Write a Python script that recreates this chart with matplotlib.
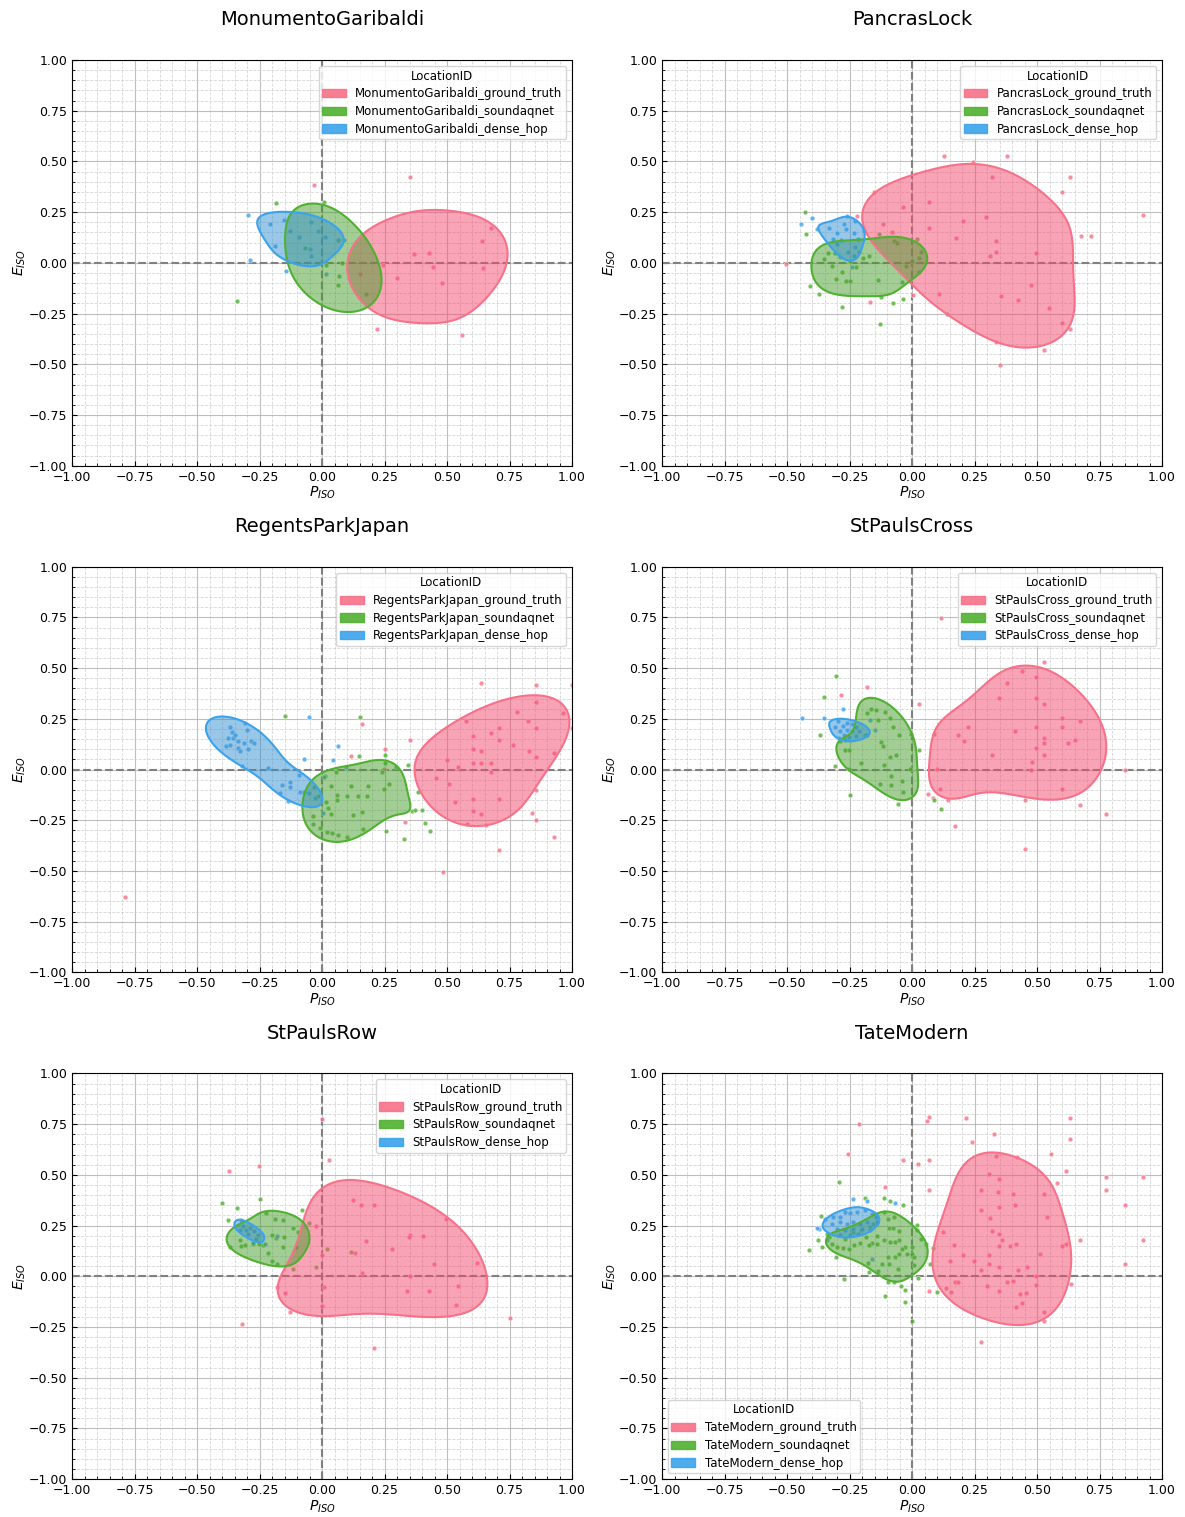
import numpy as np
import matplotlib
matplotlib.use("Agg")
import matplotlib.pyplot as plt
from matplotlib.patches import Patch
import seaborn as sns

# punkty (P_ISO, E_ISO)
locations = ["MonumentoGaribaldi", "PancrasLock", "RegentsParkJapan",
             "StPaulsCross", "StPaulsRow", "TateModern"]
models = ["ground_truth", "soundaqnet", "dense_hop"]

mg_gt = [(0.353, 0.425), (-0.032, 0.383), (0.676, 0.174), (0.64, 0.108), (0.368, 0.043),
         (0.427, 0.049), (0.443, -0.018), (0.644, -0.026), (0.301, -0.076), (0.479, -0.097),
         (0.22, -0.327), (0.56, -0.356), (0.243, -0.01), (0.152, -0.056)]
mg_sq = [(-0.183, 0.294), (0.007, 0.299), (-0.068, 0.072), (0.081, -0.002), (0.017, -0.011),
         (0.068, -0.064), (0.063, -0.11), (0.175, -0.154), (-0.339, -0.19),
         (0.064, 0.113)]
mg_dh = [(-0.297, 0.238), (-0.288, 0.015), (-0.145, -0.039), (-0.209, 0.19), (-0.152, 0.212),
         (-0.129, 0.159), (-0.091, 0.128), (-0.044, 0.204), (-0.016, 0.158), (0.011, 0.128),
         (-0.048, 0.067), (-0.043, 0.034), (-0.187, 0.082), (0.015, -0.056), (0.088, 0.113)]

pl_gt = [(0.129, 0.529), (0.38, 0.529), (0.245, 0.498), (0.319, 0.424), (0.631, 0.424),
         (0.6, 0.351), (-0.153, 0.351), (0.068, 0.3), (-0.036, 0.277), (0.297, 0.227),
         (0.203, 0.205), (0.068, 0.174), (0.177, 0.123), (0.335, 0.108), (0.335, 0.056),
         (0.313, 0.034), (0.675, 0.131), (0.716, 0.131), (0.496, 0.051), (0.924, 0.235),
         (-0.505, -0.003), (0.475, -0.107), (0.356, -0.164), (0.423, -0.181), (0.548, -0.223),
         (0.141, -0.253), (0.6, -0.296), (0.631, -0.327), (0.335, -0.392), (0.527, -0.43),
         (0.351, -0.502), (0.004, -0.158), (-0.167, -0.195), (-0.219, 0.233), (0.108, -0.151),
         (-0.117, 0.192), (-0.08, 0.154)]
pl_sq = [(-0.428, 0.253), (-0.423, 0.143), (-0.408, -0.112), (-0.372, -0.151), (-0.281, -0.215),
         (-0.128, -0.3), (-0.077, -0.2), (-0.035, -0.177), (-0.124, -0.166), (-0.137, -0.085),
         (-0.039, -0.092), (-0.304, -0.079), (-0.265, -0.087), (-0.248, -0.087), (-0.279, -0.044),
         (-0.32, -0.013), (-0.352, 0.02), (-0.336, 0.051), (-0.309, 0.051), (-0.249, 0.007),
         (-0.225, -0.018), (-0.212, 0.053), (-0.195, 0.025), (-0.173, 0.036), (-0.024, -0.013),
         (0.0, 0.007), (0.029, 0.025), (0.037, 0.056), (0.027, -0.046), (0.019, 0.117),
         (-0.133, 0.141), (-0.072, 0.11), (-0.061, 0.097)]
pl_dh = [(-0.444, 0.19), (-0.401, 0.222), (-0.381, 0.166), (-0.331, 0.172), (-0.259, 0.232),
         (-0.227, 0.209), (-0.272, 0.19), (-0.264, 0.166), (-0.301, 0.146), (-0.232, 0.149),
         (-0.193, 0.159), (-0.284, 0.113), (-0.317, 0.12), (-0.215, 0.117), (-0.301, 0.092),
         (-0.227, 0.08), (-0.288, 0.028), (-0.241, -0.018), (-0.231, 0.036), (-0.255, 0.056)]

rp_gt = [(0.635, 0.429), (0.855, 0.415), (0.999, 0.415), (0.855, 0.333), (0.781, 0.282),
         (0.964, 0.277), (0.575, 0.238), (0.823, 0.238), (0.707, 0.207), (0.855, 0.207),
         (0.999, 0.207), (0.604, 0.166), (0.677, 0.179), (0.707, 0.146), (0.352, 0.148),
         (0.765, 0.12), (0.605, 0.103), (0.636, 0.094), (0.828, 0.094), (0.855, 0.061),
         (0.928, 0.082), (0.117, 0.069), (0.159, 0.223), (0.251, 0.103), (0.499, 0.046),
         (0.545, 0.015), (0.605, 0.031), (0.635, 0.031), (0.677, 0.031), (0.677, -0.011),
         (0.457, -0.041), (0.508, -0.072), (0.605, -0.146), (0.707, -0.146), (0.855, -0.102),
         (0.531, -0.158), (0.605, -0.205), (0.636, -0.22), (0.581, -0.266), (0.657, -0.273),
         (0.855, -0.25), (0.84, -0.213), (0.332, -0.258), (0.928, -0.33), (0.707, -0.396),
         (0.484, -0.507), (-0.788, -0.63), (0.249, 0.003)]
rp_sq = [(-0.147, 0.264), (0.153, 0.261), (0.149, 0.067), (0.252, 0.072), (0.253, 0.033),
         (0.296, 0.015), (0.344, 0.021), (0.239, -0.011), (0.269, -0.069), (0.249, -0.094),
         (0.184, -0.079), (0.179, -0.128), (0.144, -0.128), (0.116, -0.082), (0.101, -0.131),
         (0.055, -0.011), (0.013, -0.033), (0.036, -0.08), (-0.031, -0.087), (-0.015, -0.131),
         (0.017, -0.159), (0.025, -0.189), (0.036, -0.217), (-0.037, -0.23), (-0.037, -0.268),
         (-0.008, -0.287), (0.019, -0.309), (0.04, -0.315), (0.064, -0.323), (0.099, -0.332),
         (0.125, -0.225), (0.161, -0.207), (0.165, -0.291), (0.383, -0.113), (0.359, -0.204),
         (0.372, -0.2), (0.399, -0.2), (0.412, -0.264), (0.432, -0.302), (0.256, -0.304),
         (0.327, -0.343), (0.059, -0.149), (0.061, -0.126)]
rp_dh = [(-0.051, 0.261), (0.064, 0.115), (0.043, 0.049), (0.096, 0.015), (-0.073, 0.051),
         (-0.217, 0.007), (-0.32, 0.016), (-0.308, 0.232), (-0.36, 0.184), (-0.375, 0.156),
         (-0.355, 0.156), (-0.335, 0.14), (-0.311, 0.131), (-0.385, 0.118), (-0.368, 0.123),
         (-0.335, 0.107), (-0.328, 0.09), (-0.284, 0.14), (-0.272, 0.131), (-0.301, 0.197),
         (-0.348, 0.172), (-0.295, 0.103), (-0.093, -0.026), (-0.128, -0.062), (-0.16, -0.074),
         (-0.128, -0.085), (-0.169, -0.117), (-0.137, -0.156), (-0.089, -0.11), (-0.071, -0.113),
         (-0.051, -0.115), (-0.028, -0.14), (0.003, -0.213), (0.008, -0.039), (-0.37, 0.21)]

sc_gt = [(0.115, 0.745), (0.527, 0.532), (0.439, 0.486), (0.496, 0.458), (0.38, 0.429),
         (-0.181, 0.406), (-0.285, 0.368), (0.349, 0.355), (0.496, 0.355), (0.527, 0.325),
         (0.027, 0.325), (0.6, 0.253), (0.673, 0.238), (0.224, 0.209), (0.496, 0.209),
         (0.6, 0.209), (0.412, 0.19), (0.088, 0.177), (0.183, 0.169), (0.209, 0.141),
         (0.527, 0.158), (0.527, 0.133), (0.623, 0.133), (0.652, 0.148), (0.496, 0.105),
         (0.319, 0.074), (0.527, 0.074), (0.481, 0.036), (0.475, 0.0), (0.099, 0.002),
         (0.852, 0.0), (0.6, -0.094), (0.064, -0.118), (0.113, -0.094), (0.084, -0.14),
         (0.143, -0.148), (0.453, -0.148), (0.673, -0.177), (0.777, -0.218), (0.172, -0.279),
         (0.453, -0.394)]
sc_sq = [(-0.303, 0.463), (-0.353, 0.36), (-0.368, 0.171), (-0.308, 0.016), (-0.251, 0.003),
         (-0.249, -0.126), (-0.164, 0.3), (-0.144, 0.296), (-0.107, 0.286), (-0.179, 0.279),
         (-0.089, 0.255), (-0.135, 0.245), (-0.075, 0.212), (-0.188, 0.172), (-0.052, 0.171),
         (-0.123, 0.136), (-0.117, 0.115), (-0.064, 0.071), (-0.089, 0.064), (-0.111, 0.021),
         (-0.205, 0.033), (-0.128, -0.069), (-0.084, -0.034), (-0.085, -0.077), (-0.04, -0.056),
         (-0.035, -0.112), (-0.056, -0.171), (-0.005, 0.177), (0.027, 0.095), (-0.007, 0.002),
         (0.088, -0.148), (0.115, -0.195), (-0.288, 0.14), (-0.252, 0.095), (-0.269, 0.095)]
sc_dh = [(-0.439, 0.253), (-0.353, 0.256), (-0.275, 0.299), (-0.309, 0.212), (-0.295, 0.238),
         (-0.275, 0.213), (-0.259, 0.23), (-0.241, 0.227), (-0.224, 0.209), (-0.213, 0.192),
         (-0.239, 0.192), (-0.261, 0.195), (-0.288, 0.19), (-0.272, 0.171), (-0.252, 0.161),
         (-0.223, 0.164), (-0.292, 0.156), (-0.169, 0.246), (-0.149, 0.194), (-0.181, 0.172),
         (-0.267, 0.148)]

sr_gt = [(0.0, 0.773), (0.029, 0.573), (-0.372, 0.517), (-0.252, 0.544), (0.124, 0.374),
         (0.156, 0.353), (0.207, 0.353), (0.495, 0.281), (-0.023, 0.25), (0.352, 0.205),
         (0.348, 0.194), (0.405, 0.199), (0.176, 0.176), (0.28, 0.135), (0.132, 0.115),
         (0.0, 0.103), (0.447, 0.059), (0.619, 0.067), (0.16, 0.015), (0.352, 0.0),
         (0.007, -0.053), (-0.179, -0.054), (-0.148, -0.082), (0.34, -0.074), (0.427, -0.074),
         (0.545, -0.049), (0.0, -0.146), (0.536, -0.14), (-0.128, -0.177), (-0.32, -0.235),
         (0.751, -0.207), (0.207, -0.353)]
sr_sq = [(-0.399, 0.36), (-0.339, 0.335), (-0.248, 0.381), (-0.376, 0.278), (-0.367, 0.145),
         (-0.323, 0.149), (-0.309, 0.153), (-0.328, 0.181), (-0.223, 0.314), (-0.189, 0.284),
         (-0.157, 0.278), (-0.2, 0.204), (-0.184, 0.187), (-0.251, 0.161), (-0.235, 0.156),
         (-0.215, 0.113), (-0.201, 0.076), (-0.179, 0.062), (-0.153, 0.194), (-0.157, 0.146),
         (-0.116, 0.24), (-0.097, 0.218), (-0.105, 0.146), (-0.116, 0.036), (-0.079, 0.328),
         (-0.053, 0.261), (-0.025, 0.044), (0.02, 0.135), (0.116, 0.118), (-0.275, 0.161),
         (-0.264, 0.184)]
sr_dh = [(-0.315, 0.25), (-0.288, 0.236), (-0.272, 0.223), (-0.295, 0.21), (-0.255, 0.205),
         (-0.305, 0.227), (-0.325, 0.279), (-0.275, 0.164), (-0.228, 0.158), (-0.18, 0.2),
         (-0.328, 0.23)]

tm_gt = [(0.068, 0.785), (0.061, 0.767), (0.216, 0.782), (0.631, 0.782), (-0.213, 0.75),
         (0.631, 0.678), (0.328, 0.7), (0.24, 0.662), (0.557, 0.604), (-0.256, 0.604),
         (-0.035, 0.573), (0.025, 0.553), (0.068, 0.573), (0.335, 0.591), (0.42, 0.588),
         (0.616, 0.517), (0.777, 0.488), (0.924, 0.488), (0.777, 0.427), (0.308, 0.502),
         (0.349, 0.478), (0.579, 0.458), (0.276, 0.427), (0.344, 0.414), (0.403, 0.406),
         (0.068, 0.427), (-0.109, 0.44), (0.527, 0.406), (0.349, 0.34), (0.412, 0.353),
         (0.851, 0.353), (0.276, 0.325), (0.313, 0.286), (0.54, 0.294), (0.319, 0.222),
         (0.349, 0.209), (0.359, 0.177), (0.349, 0.148), (0.392, 0.148), (0.417, 0.161),
         (0.513, 0.11), (0.601, 0.148), (0.616, 0.161), (0.673, 0.177), (0.924, 0.177),
         (0.204, 0.103), (0.308, 0.103), (0.248, 0.077), (0.276, 0.03), (0.308, 0.061),
         (0.349, 0.044), (0.46, 0.046), (0.424, 0.03), (0.496, 0.002), (0.851, 0.061),
         (0.637, -0.036), (0.495, -0.043), (0.38, -0.03), (0.403, -0.021), (0.349, -0.074),
         (0.068, -0.074), (0.157, -0.079), (0.136, -0.057), (0.433, -0.09), (0.455, -0.082),
         (0.439, -0.131), (0.417, -0.153), (0.527, -0.177), (0.527, -0.22), (0.276, -0.323),
         (0.123, 0.218), (0.168, 0.153), (0.151, 0.074), (0.172, -0.028),
         (0.185, -0.028), (0.299, -0.048)]
tm_sq = [(-0.293, 0.465), (-0.189, 0.386), (-0.111, 0.388), (-0.088, 0.373), (-0.365, 0.296),
         (-0.377, 0.177), (-0.411, 0.131), (-0.359, 0.144), (-0.305, 0.095), (-0.271, -0.013),
         (-0.173, 0.021), (-0.136, 0.028), (-0.121, 0.062), (-0.093, 0.062), (-0.056, 0.036),
         (-0.095, -0.028), (-0.073, -0.028), (-0.044, -0.048), (-0.028, -0.069), (-0.107, -0.095),
         (-0.029, -0.128), (0.0, -0.223), (0.024, -0.011), (0.1, -0.079), (0.009, 0.054),
         (0.056, 0.161), (0.072, 0.062), (0.035, 0.186), (0.02, 0.227), (0.019, 0.251),
         (-0.035, 0.35), (-0.097, 0.284), (-0.071, 0.292), (-0.111, 0.317), (-0.053, 0.223),
         (-0.051, 0.179), (-0.088, 0.167), (-0.067, 0.167), (-0.027, 0.144), (0.0, 0.144),
         (0.0, 0.108), (-0.021, 0.112), (0.007, 0.095), (-0.111, 0.177), (-0.141, 0.199),
         (-0.141, 0.161), (-0.183, 0.194), (-0.161, 0.166), (-0.207, 0.163), (-0.233, 0.156),
         (-0.251, 0.136), (-0.275, 0.141), (-0.301, 0.144), (-0.268, 0.186), (-0.235, 0.218),
         (-0.203, 0.227), (-0.168, 0.243), (-0.14, 0.264), (-0.091, 0.24), (-0.051, 0.112),
         (-0.097, 0.095), (-0.068, 0.094), (-0.331, 0.194), (-0.341, 0.207), (-0.321, 0.161),
         (-0.077, 0.24), (-0.177, 0.066), (-0.172, 0.153), (-0.041, 0.133), (0.085, 0.141)]
tm_dh = [(-0.236, 0.379), (-0.181, 0.371), (-0.068, 0.36), (-0.373, 0.233), (-0.348, 0.284),
         (-0.315, 0.292), (-0.288, 0.292), (-0.268, 0.317), (-0.248, 0.314), (-0.221, 0.317),
         (-0.188, 0.325), (-0.161, 0.309), (-0.144, 0.292), (-0.321, 0.259), (-0.288, 0.268),
         (-0.261, 0.259), (-0.235, 0.268), (-0.208, 0.259), (-0.181, 0.268), (-0.155, 0.259),
         (-0.301, 0.235), (-0.268, 0.227), (-0.235, 0.235), (-0.201, 0.235), (-0.168, 0.227),
         (-0.288, 0.202), (-0.248, 0.202), (-0.215, 0.21), (-0.341, 0.177), (-0.161, 0.087),
         (-0.139, 0.269), (-0.38, 0.236)]

series = {
    "MonumentoGaribaldi": [mg_gt, mg_sq, mg_dh],
    "PancrasLock": [pl_gt, pl_sq, pl_dh],
    "RegentsParkJapan": [rp_gt, rp_sq, rp_dh],
    "StPaulsCross": [sc_gt, sc_sq, sc_dh],
    "StPaulsRow": [sr_gt, sr_sq, sr_dh],
    "TateModern": [tm_gt, tm_sq, tm_dh],
}
legend_loc = {"TateModern": "lower left"}

colors = sns.color_palette("husl", 3)

fig, axes = plt.subplots(3, 2, figsize=(11.85, 15.17), dpi=100)
fig.subplots_adjust(left=0.0608, right=0.9806, top=0.9604, bottom=0.025,
                    wspace=0.18, hspace=0.249)

for ax, loc in zip(axes.flat, locations):
    for pts, col in zip(series[loc], colors):
        p = np.array(pts)
        ax.scatter(p[:, 0], p[:, 1], s=12, color=col, alpha=0.8,
                   edgecolor="white", linewidth=0.4, zorder=2)
    for pts, col in zip(series[loc], colors):
        p = np.array(pts)
        sns.kdeplot(x=p[:, 0], y=p[:, 1], ax=ax, fill=True, levels=2, thresh=0.5,
                    bw_adjust=1.2, clip=(-1, 1), color=col, alpha=0.5, zorder=3)
        sns.kdeplot(x=p[:, 0], y=p[:, 1], ax=ax, fill=False, levels=2, thresh=0.5,
                    bw_adjust=1.2, clip=(-1, 1), color=col, alpha=1, linewidths=1.5,
                    zorder=4)

    ax.set_xlim(-1, 1)
    ax.set_ylim(-1, 1)
    ticks = np.linspace(-1, 1, 9)
    ax.set_xticks(ticks)
    ax.set_yticks(ticks)
    ax.set_xticks(np.arange(-1, 1.001, 0.05), minor=True)
    ax.set_yticks(np.arange(-1, 1.001, 0.05), minor=True)
    ax.tick_params(which="both", direction="in", labelsize=9)
    ax.grid(which="major", color="#b0b0b0", linewidth=0.8, alpha=0.8)
    ax.grid(which="minor", color="#cccccc", linestyle="--", linewidth=0.6, alpha=0.8)
    ax.set_axisbelow(True)
    ax.axhline(0, color="grey", linestyle="--", linewidth=1.5, zorder=1)
    ax.axvline(0, color="grey", linestyle="--", linewidth=1.5, zorder=1)
    ax.set_xlabel("$P_{ISO}$", fontsize=10, labelpad=1)
    ax.set_ylabel("$E_{ISO}$", fontsize=10, labelpad=0.5)
    ax.set_title(loc, fontsize=14, pad=25)

    handles = [Patch(facecolor=c, edgecolor=c, alpha=0.9) for c in colors]
    labels = [f"{loc}_{m}" for m in models]
    ax.legend(handles, labels, title="LocationID", loc=legend_loc.get(loc, "upper right"),
              fontsize=8.5, title_fontsize=8.5, borderpad=0.3, labelspacing=0.4)

fig.savefig("out.png", dpi=100)
